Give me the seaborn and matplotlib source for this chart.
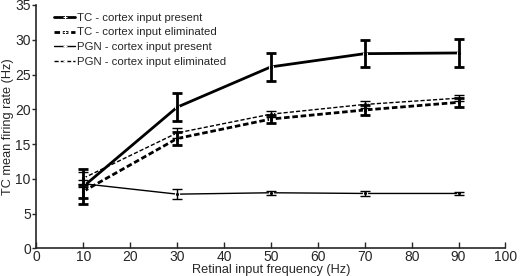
import matplotlib
matplotlib.use("Agg")
import matplotlib.pyplot as plt
import seaborn as sns
import pandas as pd

freq = [10, 30, 50, 70, 90]

tc_present = [8.9, 20.3, 26.1, 28.0, 28.1]
tc_present_err = [2.45, 2.0, 2.05, 1.9, 2.0]
tc_elim = [8.2, 15.8, 18.6, 19.9, 21.0]
tc_elim_err = [0.9, 0.9, 0.6, 0.7, 0.6]
pgn_present = [9.3, 7.8, 8.0, 7.9, 7.9]
pgn_present_err = [0.5, 0.7, 0.3, 0.4, 0.2]
pgn_elim = [10.1, 16.6, 19.3, 20.7, 21.6]
pgn_elim_err = [0.9, 0.7, 0.4, 0.5, 0.4]

labels = ["TC - cortex input present", "TC - cortex input eliminated",
          "PGN - cortex input present", "PGN - cortex input eliminated"]
means = [tc_present, tc_elim, pgn_present, pgn_elim]
errs = [tc_present_err, tc_elim_err, pgn_present_err, pgn_elim_err]

rows = []
for lab, m, e in zip(labels, means, errs):
    for f, v, s in zip(freq, m, e):
        rows.append({"freq": f, "rate": v, "err": s, "group": lab})
df = pd.DataFrame(rows)

sns.set_style("ticks")
plt.rcParams["font.family"] = ["Liberation Sans", "DejaVu Sans"]

fig, ax = plt.subplots(figsize=(5.2, 2.76), dpi=100)
fig.subplots_adjust(left=0.07, right=0.972, top=0.982, bottom=0.10)

widths = [2.0, 2.0, 1.0, 1.0]
dashes = {labels[0]: "", labels[1]: (2, 1), labels[2]: "", labels[3]: (3, 1.5)}

sns.lineplot(data=df, x="freq", y="rate", hue="group", style="group",
             palette=["black"] * 4, dashes=dashes, markers=["o"] * 4,
             markersize=3, ax=ax, legend=True)
for line, w in zip(ax.get_lines()[:4], widths):
    line.set_linewidth(w)

for lab, w in zip(labels, widths):
    sub = df[df["group"] == lab]
    ax.errorbar(sub["freq"], sub["rate"], yerr=sub["err"], fmt="none",
                ecolor="black", elinewidth=w, capsize=3.5, capthick=w)

handles, _ = ax.get_legend_handles_labels()
for h, w in zip(handles, widths):
    h.set_linewidth(w)
    h.set_marker("+")
    h.set_markersize(3)
ax.legend(handles, labels, loc="upper left", frameon=False, fontsize=8.2,
          handlelength=1.9, handletextpad=0.15, labelspacing=0.4,
          borderaxespad=0.3, bbox_to_anchor=(0.02, 1.0))

ax.set_xlim(0, 100)
ax.set_ylim(0, 35)
ax.set_xticks(range(0, 101, 10))
ax.set_yticks(range(0, 36, 5))
ax.tick_params(axis="x", direction="in", length=4, labelsize=10, pad=1.5, width=1)
ax.tick_params(axis="y", direction="out", length=3, labelsize=10, pad=1, width=1)
ax.set_xlabel("Retinal input frequency (Hz)", fontsize=9.2, labelpad=0)
ax.set_ylabel("TC mean firing rate (Hz)", fontsize=9.2, labelpad=1)
sns.despine(ax=ax)
for sp in ["left", "bottom"]:
    ax.spines[sp].set_linewidth(1.2)

fig.savefig("out.png", dpi=100)
